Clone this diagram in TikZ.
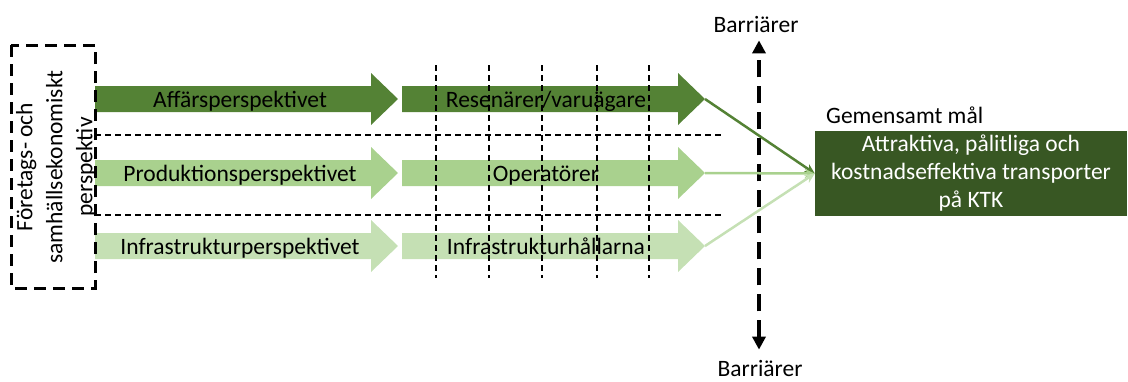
\documentclass[tikz,border=0pt]{standalone}
\usepackage{fontspec}
\setmainfont{Carlito}
\usetikzlibrary{arrows.meta}
\definecolor{ccdark}{RGB}{84,130,53}
\definecolor{ccmid}{RGB}{169,209,142}
\definecolor{cclight}{RGB}{197,224,180}
\definecolor{ccgoal}{RGB}{56,87,35}

\begin{document}
\begin{tikzpicture}[x=1pt,y=-1pt]

  % Styles
  \tikzstyle{texte} = [inner sep=0pt, font=\fontsize{23.5}{30}\selectfont]
  \tikzstyle{lien} = [-{Stealth[length=10pt,width=9pt]}, line width=2.5pt]
  \tikzstyle{pointille} = [dash pattern=on 6pt off 4pt, line width=1.2pt]
  \tikzstyle{barriere} = [{Triangle[length=13pt,width=13pt]}-{Triangle[length=13pt,width=13pt]}, line width=4pt, dash pattern=on 17pt off 9pt]

  \useasboundingbox (0,0) rectangle (1128,381) ;

  % Perspectives
  \fill[ccdark] (95,86) -- (371,86) -- (371,73) -- (398,99) -- (371,125) -- (371,112) -- (95,112) -- cycle ;
  \fill[ccmid] (95,160) -- (371,160) -- (371,147) -- (398,173) -- (371,199) -- (371,186) -- (95,186) -- cycle ;
  \fill[cclight] (95,233) -- (371,233) -- (371,220) -- (398,246) -- (371,272) -- (371,259) -- (95,259) -- cycle ;
  % Acteurs
  \fill[ccdark] (402,86) -- (678,86) -- (678,73) -- (705,99) -- (678,125) -- (678,112) -- (402,112) -- cycle ;
  \fill[ccmid] (402,160) -- (678,160) -- (678,147) -- (705,173) -- (678,199) -- (678,186) -- (402,186) -- cycle ;
  \fill[cclight] (402,233) -- (678,233) -- (678,220) -- (705,246) -- (678,272) -- (678,259) -- (402,259) -- cycle ;
  \coordinate (pilR) at (705,99) ;
  \coordinate (pilO) at (705,173) ;
  \coordinate (pilI) at (705,246) ;

  % Pointillés
  \draw[pointille] (95,135) -- (723,135) ;
  \draw[pointille] (95,215) -- (723,215) ;
  \foreach \x in {436,489,542,597,649}
    \draw[pointille] (\x,65) -- (\x,278) ;

  % Boîte de gauche
  \draw[line width=3pt, dash pattern=on 12pt off 7pt] (11,45) rectangle (95,288) ;
  \draw (56,167) node[texte, rotate=90, align=center] (perspektiv) {Företags- och\\samhällsekonomiskt\\perspektiv} ;

  % Textes des flèches
  \draw (240,107) node[texte, anchor=base] (affar) {Affärsperspektivet} ;
  \draw (240,181) node[texte, anchor=base] (prod) {Produktionsperspektivet} ;
  \draw (240,254) node[texte, anchor=base] (infra) {Infrastrukturperspektivet} ;
  \draw (546,107) node[texte, anchor=base] (resenar) {Resenärer/varuägare} ;
  \draw (546,181) node[texte, anchor=base] (oper) {Operatörer} ;
  \draw (546,254) node[texte, anchor=base] (infrah) {Infrastrukturhållarna} ;

  % Mål
  \draw (971,173.5) node[texte, fill=ccgoal, text=white, align=center, minimum width=312pt, minimum height=85pt, font=\fontsize{23.5}{28}\selectfont] (mal) {Attraktiva, pålitliga och\\kostnadseffektiva transporter\\på KTK} ;
  \draw (826,123) node[texte, anchor=base west] (gemensamt) {Gemensamt mål} ;

  % Barriärer
  \draw (756,32) node[texte, anchor=base] (barrtop) {Barriärer} ;
  \draw (760,376) node[texte, anchor=base] (barrbot) {Barriärer} ;
  \draw[barriere, shorten <=10pt, shorten >=8pt] (barrbot.north -| 759,0) -- (barrtop.south -| 759,0) ;

  % Liens vers le mål
  \draw[lien, ccdark] (pilR) -- (mal.west) ;
  \draw[lien, ccmid] (pilO) -- (mal.west) ;
  \draw[lien, cclight] (pilI) -- (mal.west) ;

\end{tikzpicture}
\end{document}
